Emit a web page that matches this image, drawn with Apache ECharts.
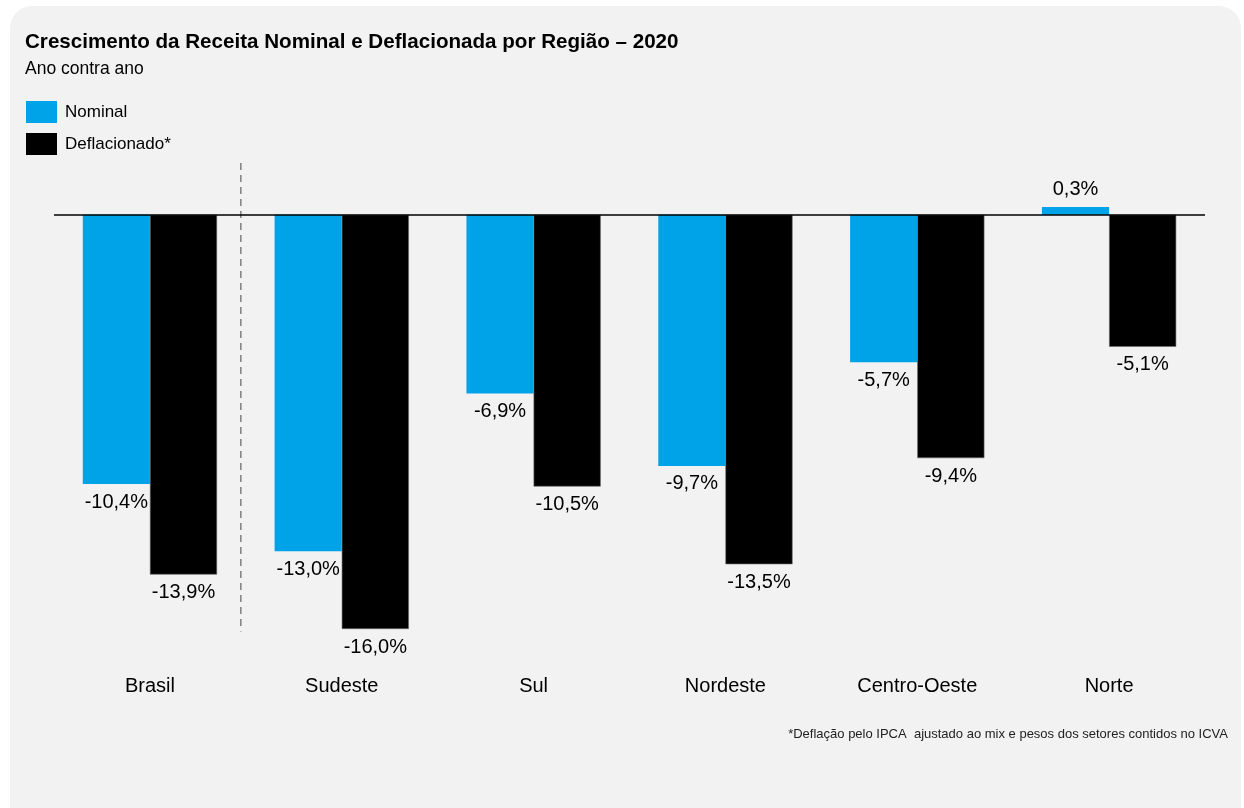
<!DOCTYPE html>
<html>
<head>
<meta charset="utf-8">
<script src="https://cdn.jsdelivr.net/npm/echarts@6/dist/echarts.min.js"></script>
<style>
  html, body { margin: 0; padding: 0; background: #ffffff; }
  #chart { width: 1244px; height: 808px; }
</style>
</head>
<body>
<div id="chart"></div>
<script>
// Regiões e crescimento ano contra ano (%)
const categories = ['Brasil', 'Sudeste', 'Sul', 'Nordeste', 'Centro-Oeste', 'Norte'];
const nominal = [-10.4, -13.0, -6.9, -9.7, -5.7, 0.3];
const deflacionado = [-13.9, -16.0, -10.5, -13.5, -9.4, -5.1];
const seriesNames = ['Nominal', 'Deflacionado*'];

const FONT = '"Liberation Sans", Arial, sans-serif';
const fmt = v => v.toFixed(1).replace('.', ',') + '%';

// Rótulo abaixo da barra quando negativa, acima quando positiva
const withLabels = arr => arr.map(v => ({
  value: v,
  label: { position: v < 0 ? 'bottom' : 'top' }
}));

const chart = echarts.init(document.getElementById('chart'), null, { renderer: 'canvas' });

const labelStyle = {
  show: true,
  distance: 8,
  formatter: p => fmt(p.value),
  fontFamily: FONT,
  fontSize: 20,
  color: '#000'
};

chart.setOption({
  animation: false,
  backgroundColor: '#ffffff',
  textStyle: { fontFamily: FONT },
  title: [{
    text: 'Crescimento da Receita Nominal e Deflacionada por Região – 2020',
    left: 25, top: 32, padding: 0,
    textStyle: { fontFamily: FONT, fontWeight: 'bold', fontSize: 20.6, color: '#000' }
  }, {
    text: 'Ano contra ano',
    left: 25, top: 60, padding: 0,
    textStyle: { fontFamily: FONT, fontWeight: 'normal', fontSize: 17.5, color: '#000' }
  }],
  legend: {
    orient: 'vertical',
    left: 26, top: 101, padding: 0,
    itemWidth: 31, itemHeight: 22, itemGap: 10,
    icon: 'rect',
    itemStyle: { borderWidth: 0 },
    textStyle: { fontFamily: FONT, fontSize: 17, color: '#000', padding: [0, 0, 0, 3] },
    data: seriesNames
  },
  grid: { left: 54, right: 39, top: 163, height: 466, containLabel: false },
  xAxis: {
    type: 'category',
    data: categories,
    axisLine: { show: false },
    axisTick: { show: false },
    axisLabel: { margin: 47, fontFamily: FONT, fontSize: 20, color: '#000' }
  },
  yAxis: {
    type: 'value',
    min: -16, max: 2,
    show: false,
    splitLine: { show: false }
  },
  series: [{
    name: seriesNames[0],
    type: 'bar',
    data: withLabels(nominal),
    itemStyle: { color: '#00a2e8' },
    barGap: '0%',
    barCategoryGap: '30%',
    label: labelStyle,
    markLine: {
      silent: true,
      symbol: 'none',
      label: { show: false },
      lineStyle: { color: '#000', width: 1.5, type: 'solid' },
      data: [{ yAxis: 0 }],
      z: 5
    }
  }, {
    name: seriesNames[1],
    type: 'bar',
    data: withLabels(deflacionado),
    itemStyle: { color: '#000000', borderColor: '#6b6b6b', borderWidth: 0.6 },
    barGap: '0%',
    barCategoryGap: '30%',
    label: labelStyle
  }]
});

// Painel de fundo, linha tracejada entre Brasil e regiões, nota de rodapé
const x0 = chart.convertToPixel({ xAxisIndex: 0 }, 0);
const x1 = chart.convertToPixel({ xAxisIndex: 0 }, 1);
const dashX = (x0 + x1) / 2 - 5;
const yTop = chart.convertToPixel({ yAxisIndex: 0 }, 2);
const yBot = chart.convertToPixel({ yAxisIndex: 0 }, -16.1);

chart.setOption({
  graphic: [{
    type: 'rect',
    z: -10, zlevel: 0,
    shape: { x: 10, y: 6, width: 1231, height: 830, r: 22 },
    style: { fill: '#f2f2f2' },
    silent: true
  }, {
    type: 'line',
    z: 1,
    shape: { x1: dashX, y1: yTop, x2: dashX, y2: yBot },
    style: { stroke: '#7f7f7f', lineWidth: 1.5, lineDash: [7, 5] },
    silent: true
  }, {
    type: 'text',
    right: 16, top: 728,
    style: {
      text: '*Deflação pelo IPCA  ajustado ao mix e pesos dos setores contidos no ICVA',
      fontFamily: FONT, fontSize: 13, fill: '#222'
    },
    silent: true
  }]
});
</script>
</body>
</html>
